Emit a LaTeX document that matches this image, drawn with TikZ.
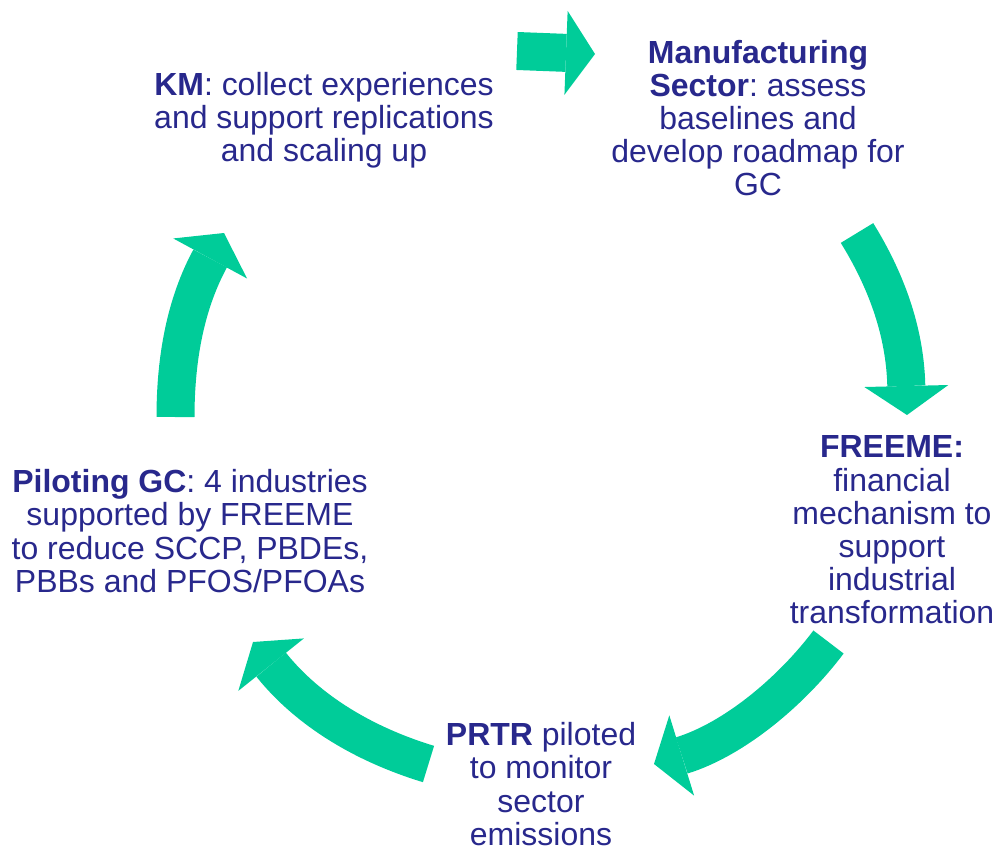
\documentclass[tikz,border=0pt]{standalone}
\usepackage{fontspec}
\setmainfont{Liberation Sans}
\usetikzlibrary{arrows.meta}
\definecolor{cyclegreen}{RGB}{0,204,153}
\definecolor{textnavy}{RGB}{40,40,140}
\frenchspacing

\begin{document}
\begin{tikzpicture}[x=0.02cm, y=-0.02cm,
  stage/.style={align=center, inner sep=0pt, text=textnavy, font=\fontsize{18.2}{18.9}\selectfont},
  cyc/.style={cyclegreen, line width=0.76cm, -{Triangle[length=0.58cm, width=1.68cm, line width=0pt]}},
]
  \useasboundingbox (0,0) rectangle (997,848);

  % Stages of the cycle
  \node[stage] (km) at (324,120) {\textbf{KM}: collect experiences\\and support replications\\and scaling up};
  \node[stage] (mfg) at (758,118) {\textbf{Manufacturing}\\\textbf{Sector}: assess\\baselines and\\develop roadmap for\\GC};
  \node[stage] (freeme) at (892,530) {\textbf{FREEME:}\\financial\\mechanism to\\support\\industrial\\transformation};
  \node[stage] (pilot) at (190,531) {\textbf{Piloting GC}: 4 industries\\supported by FREEME\\to reduce SCCP, PBDEs,\\PBBs and PFOS/PFOAs};
  \node[stage] (prtr) at (541,784) {\textbf{PRTR} piloted\\to monitor\\sector\\emissions};

  % Arrow ends
  \coordinate (km-out) at (517,51);
  \coordinate (mfg-in) at (595,54);
  \coordinate (mfg-out) at (857,233);
  \coordinate (freeme-in) at (907,415);
  \coordinate (freeme-out) at (828.5,642);
  \coordinate (prtr-in) at (654,764);
  \coordinate (prtr-out) at (428.5,764);
  \coordinate (pilot-in) at (253,642);
  \coordinate (pilot-out) at (175.5,417);
  \coordinate (km-in) at (224,233);

  \draw[cyc] (km-out) -- (mfg-in);
  \draw[cyc] (mfg-out) .. controls +(29,47) and +(-2,-84) .. (freeme-in);
  \draw[cyc] (freeme-out) .. controls +(-36,48) and +(81,-25) .. (prtr-in);
  \draw[cyc] (prtr-out) .. controls +(-62.5,-19) and +(56,70) .. (pilot-in);
  \draw[cyc] (pilot-out) .. controls +(0,-60) and +(-38,70) .. (km-in);
\end{tikzpicture}
\end{document}
